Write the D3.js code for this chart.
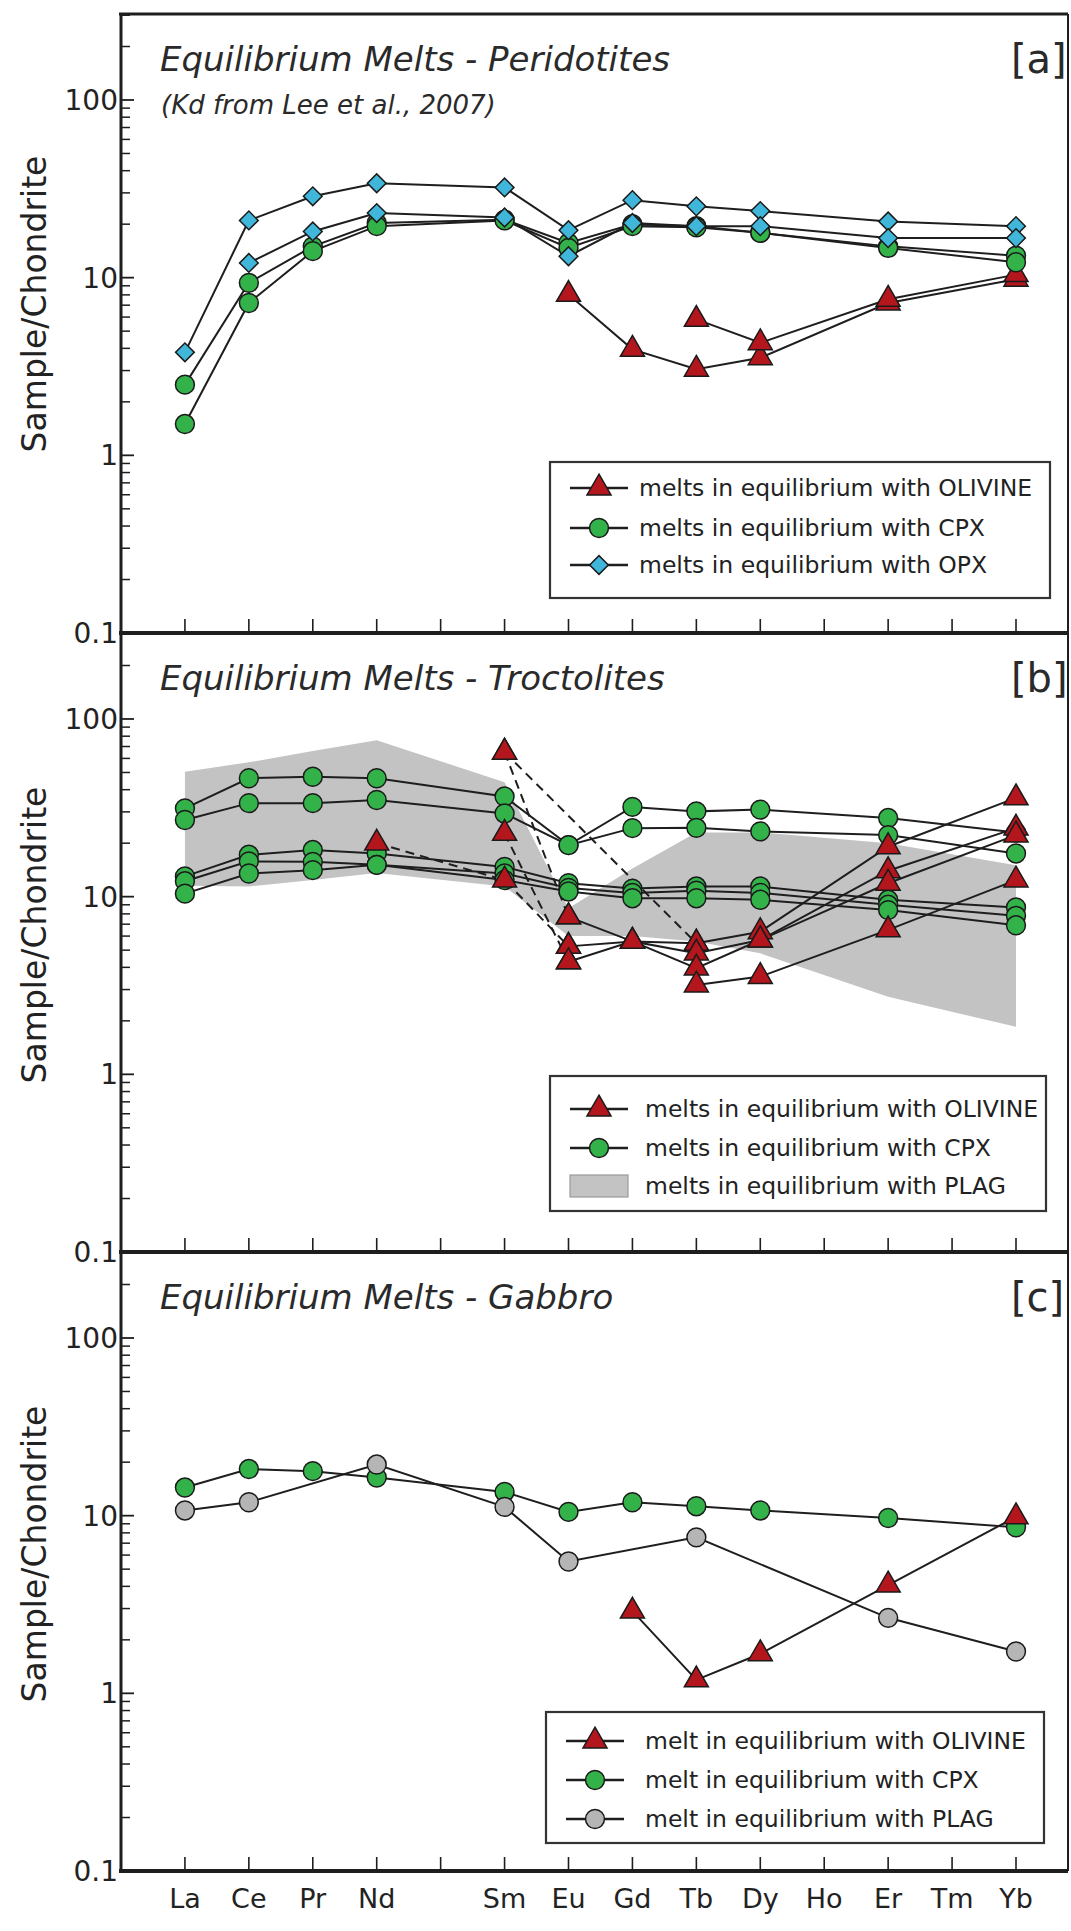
<!DOCTYPE html>
<html>
<head>
<meta charset="utf-8">
<script src="https://cdn.jsdelivr.net/npm/d3@7"></script>
<style>
  html, body { margin: 0; padding: 0; background: #fff; }
  svg { display: block; font-family: "DejaVu Sans", sans-serif; }
</style>
</head>
<body>
<svg id="chart" width="1071" height="1931"></svg>
<script>
// REE on the x axis (Pm has no label)
const elements = ["La", "Ce", "Pr", "Nd", "Pm", "Sm", "Eu", "Gd", "Tb", "Dy", "Ho", "Er", "Tm", "Yb"];
const tickLabels = ["La", "Ce", "Pr", "Nd", "", "Sm", "Eu", "Gd", "Tb", "Dy", "Ho", "Er", "Tm", "Yb"];
const yTickValues = [0.1, 1, 10, 100];
const yTickLabels = ["0.1", "1", "10", "100"];

// [a] peridotites
const periOlivine = [
  [null, null, null, null, null, null, 8.05, 3.95, 3.05, 3.54, null, 7.2, null, 9.8],
  [null, null, null, null, null, null, null, null, 5.82, 4.3, null, 7.55, null, 10.4]
];
const periCpx = [
  [2.5, 9.35, 15.0, 20.3, null, 21.2, 15.7, 20.0, 19.5, 17.9, null, 15.0, null, 13.3],
  [1.5, 7.2, 14.1, 19.5, null, 21.0, 14.7, 19.5, 19.2, 17.9, null, 14.7, null, 12.2]
];
const periOpx = [
  [3.8, 21.0, 28.7, 34.0, null, 32.2, 18.5, 27.3, 25.2, 23.7, null, 20.7, null, 19.5],
  [null, 12.1, 18.2, 23.1, null, 21.8, 13.2, 20.3, 19.5, 19.5, null, 16.7, null, 16.7]
];

// [b] troctolites
const trocCpx = [
  [31.4, 46.4, 47.3, 46.4, null, 36.6, 19.5, 32.0, 30.2, 30.9, null, 27.7, null, 23.0],
  [27.0, 33.6, 33.6, 35.0, null, 29.4, 19.5, 24.3, 24.4, 23.3, null, 22.2, null, 17.5],
  [13.0, 17.2, 18.3, 17.5, null, 14.7, 11.9, 11.1, 11.4, 11.4, null, 9.6, null, 8.7],
  [12.2, 15.8, 15.7, 15.1, null, 13.5, 11.2, 10.5, 10.8, 10.5, null, 9.0, null, 7.8],
  [10.4, 13.5, 14.1, 15.1, null, 12.4, 10.7, 9.8, 9.8, 9.6, null, 8.4, null, 6.9]
];
const trocOlivine = [
  [null, null, null, null, null, null, 5.25, 5.6, 5.47, 6.35, null, 19.1, null, 36.0],
  [null, null, null, null, null, null, 4.3, 5.6, 4.81, 5.7, null, 14.0, null, 24.3],
  [null, null, null, null, null, null, 7.7, 5.6, 3.96, 5.7, null, 11.9, null, 22.2],
  [null, null, null, null, null, null, null, null, 3.18, 3.55, null, 6.5, null, 12.4]
];
const trocOlivineDashed = [
  [null, null, null, null, null, 65.0, 7.7, null, null, null, null, null, null, null],
  [null, null, null, null, null, 65.0, null, null, 5.47, null, null, null, null, null],
  [null, null, null, null, null, 22.7, 4.3, null, null, null, null, null, null, null],
  [null, null, null, 20.0, null, 12.4, 5.25, null, null, null, null, null, null, null]
];
const trocPlagUpper = [50.5, 57.0, 66.0, 76.0, null, 44.0, 8.6, 14.4, 23.0, 23.0, null, 20.0, null, 15.0];
const trocPlagLower = [11.5, 11.4, 12.4, 13.6, null, 11.4, 6.0, 6.0, 5.6, 4.8, null, 2.73, null, 1.85];

// [c] gabbro
const gabCpx = [[14.4, 18.3, 17.8, 16.4, null, 13.6, 10.5, 11.9, 11.3, 10.7, null, 9.7, null, 8.6]];
const gabPlag = [[10.7, 11.9, null, 19.4, null, 11.2, 5.52, null, 7.55, null, null, 2.66, null, 1.72]];
const gabOlivine = [[null, null, null, null, null, null, null, 2.9, 1.19, 1.67, null, 4.07, null, 9.85]];

const markerStyle = {
  olv:  { sym: d3.symbolTriangle, size: 250, fill: "#b3161d", rot: 0 },
  cpx:  { sym: d3.symbolCircle, size: 280, fill: "#34b24a", rot: 0 },
  opx:  { sym: d3.symbolSquare, size: 175, fill: "#40b6da", rot: 45 },
  plag: { sym: d3.symbolCircle, size: 280, fill: "#b5b5b5", rot: 0 }
};

const panels = [
  {
    top: 14, title: "Equilibrium Melts - Peridotites", sub: "(Kd from Lee et al., 2007)", tag: "[a]",
    ylabCenter: 290,
    series: [
      { data: periOlivine, kind: "olv" },
      { data: periCpx, kind: "cpx" },
      { data: periOpx, kind: "opx" }
    ],
    legend: { x: 550, y: 448, w: 500, h: 136, rows: [26, 66, 103], textX: 639,
      items: [["olv", "melts in equilibrium with OLIVINE"], ["cpx", "melts in equilibrium with CPX"], ["opx", "melts in equilibrium with OPX"]] }
  },
  {
    top: 633, title: "Equilibrium Melts - Troctolites", sub: null, tag: "[b]",
    ylabCenter: 302,
    area: [trocPlagUpper, trocPlagLower],
    series: [
      { data: trocCpx, kind: "cpx" },
      { data: trocOlivineDashed, kind: "olv", dashed: true },
      { data: trocOlivine, kind: "olv" }
    ],
    legend: { x: 550, y: 443, w: 496, h: 135, rows: [33, 72, 110], textX: 645,
      items: [["olv", "melts in equilibrium with OLIVINE"], ["cpx", "melts in equilibrium with CPX"], ["area", "melts in equilibrium with PLAG"]] }
  },
  {
    top: 1252, title: "Equilibrium Melts - Gabbro", sub: null, tag: "[c]",
    ylabCenter: 302,
    series: [
      { data: gabCpx, kind: "cpx" },
      { data: gabPlag, kind: "plag" },
      { data: gabOlivine, kind: "olv" }
    ],
    legend: { x: 546, y: 460, w: 498, h: 131, rows: [29, 68, 107], textX: 645,
      items: [["olv", "melt in equilibrium with OLIVINE"], ["cpx", "melt in equilibrium with CPX"], ["plag", "melt in equilibrium with PLAG"]] }
  }
];

const svg = d3.select("#chart");
const panelH = 619;
const leftX = 121, rightX = 1068;
const x = d3.scaleLinear().domain([-1, 13]).range([leftX, 1016]);
const yMax = Math.pow(10, 2 + 86 / 177.7);
const ink = "#1e1e1e";

function drawMarker(g, kind, cx, cy) {
  const s = markerStyle[kind];
  g.append("path")
    .attr("d", d3.symbol(s.sym, s.size)())
    .attr("transform", `translate(${cx},${cy}) rotate(${s.rot})`)
    .attr("fill", s.fill)
    .attr("stroke", "#1a1a1a")
    .attr("stroke-width", 1.5);
}

panels.forEach(p => {
  const g = svg.append("g");
  const y = d3.scaleLog().domain([0.1, yMax]).range([p.top + panelH, p.top]);

  // shaded field
  if (p.area) {
    const pts = elements.map((e, i) => i).filter(i => p.area[0][i] != null);
    const area = d3.area().x(i => x(i)).y0(i => y(p.area[1][i])).y1(i => y(p.area[0][i]));
    g.append("path").datum(pts).attr("d", area).attr("fill", "#c3c3c3");
  }

  // series: lines first, then markers
  const line = d3.line().x(d => x(d.i)).y(d => y(d.v));
  p.series.forEach(s => {
    s.data.forEach(row => {
      const pts = row.map((v, i) => ({ i, v })).filter(d => d.v != null);
      g.append("path").datum(pts).attr("d", line)
        .attr("fill", "none").attr("stroke", ink).attr("stroke-width", 2)
        .attr("stroke-dasharray", s.dashed ? "9,6" : null);
    });
  });
  p.series.forEach(s => {
    s.data.forEach(row => {
      row.forEach((v, i) => { if (v != null) drawMarker(g, s.kind, x(i), y(v)); });
    });
  });

  // y ticks
  const minor = [];
  for (let k = -1; k <= 2; k++) for (let m = 2; m <= 9; m++) {
    const v = m * Math.pow(10, k);
    if (v < yMax) minor.push(v);
  }
  g.selectAll(null).data(minor).join("line")
    .attr("x1", leftX).attr("x2", leftX + 9).attr("y1", d => y(d)).attr("y2", d => y(d))
    .attr("stroke", ink).attr("stroke-width", 1.5);
  g.selectAll(null).data(yTickValues).join("line")
    .attr("x1", leftX).attr("x2", leftX + 13).attr("y1", d => y(d)).attr("y2", d => y(d))
    .attr("stroke", ink).attr("stroke-width", 1.8);
  g.selectAll(null).data(yTickValues).join("text")
    .attr("x", leftX - 3).attr("y", d => y(d)).attr("dy", "0.36em")
    .attr("text-anchor", "end").attr("font-size", 28).attr("fill", "#222")
    .text((d, i) => yTickLabels[i]);

  // x ticks on the bottom line of each panel
  const bottom = p.top + panelH;
  g.selectAll(null).data(elements).join("line")
    .attr("x1", (d, i) => x(i)).attr("x2", (d, i) => x(i))
    .attr("y1", bottom).attr("y2", bottom - 14)
    .attr("stroke", ink).attr("stroke-width", 1.6);

  g.append("line").attr("x1", leftX - 2).attr("x2", rightX).attr("y1", bottom).attr("y2", bottom)
    .attr("stroke", ink).attr("stroke-width", 4);

  // y label
  g.append("text")
    .attr("transform", `translate(34,${p.top + p.ylabCenter}) rotate(-90)`)
    .attr("text-anchor", "middle").attr("dy", "0.36em")
    .attr("font-size", 33).attr("fill", "#222").text("Sample/Chondrite");

  // titles
  g.append("text").attr("x", 160).attr("y", p.top + 57)
    .attr("font-size", 34).attr("font-style", "italic").attr("fill", "#2a2a2a").text(p.title);
  if (p.sub) {
    g.append("text").attr("x", 161).attr("y", p.top + 100)
      .attr("font-size", 26).attr("font-style", "italic").attr("fill", "#2a2a2a").text(p.sub);
  }
  g.append("text").attr("x", 1011).attr("y", p.top + 59)
    .attr("font-size", 40).attr("fill", "#2a2a2a").text(p.tag);

  // legend
  const L = p.legend;
  const lg = g.append("g").attr("transform", `translate(${L.x},${p.top + L.y})`);
  lg.append("rect").attr("width", L.w).attr("height", L.h)
    .attr("fill", "#fff").attr("stroke", "#333").attr("stroke-width", 2.2);
  L.items.forEach((it, k) => {
    const cy = L.rows[k];
    if (it[0] === "area") {
      lg.append("rect").attr("x", 20).attr("y", cy - 11).attr("width", 58).attr("height", 22)
        .attr("fill", "#c3c3c3").attr("stroke", "#9a9a9a").attr("stroke-width", 1.2);
    } else {
      lg.append("line").attr("x1", 20).attr("x2", 78).attr("y1", cy).attr("y2", cy)
        .attr("stroke", ink).attr("stroke-width", 2.5);
      drawMarker(lg, it[0], 49, cy);
    }
    lg.append("text").attr("x", L.textX - L.x).attr("y", cy).attr("dy", "0.36em")
      .attr("font-size", 23.5).attr("fill", "#222").text(it[1]);
  });
});

// outer frame: top, left and right edges
svg.append("line").attr("x1", leftX - 2).attr("x2", rightX).attr("y1", panels[0].top).attr("y2", panels[0].top)
  .attr("stroke", ink).attr("stroke-width", 3);
svg.append("line").attr("x1", leftX).attr("x2", leftX).attr("y1", panels[0].top).attr("y2", panels[2].top + panelH)
  .attr("stroke", ink).attr("stroke-width", 3);
svg.append("line").attr("x1", rightX).attr("x2", rightX).attr("y1", panels[0].top).attr("y2", panels[2].top + panelH)
  .attr("stroke", ink).attr("stroke-width", 2);

// element labels under the last panel
svg.append("g").selectAll("text").data(tickLabels).join("text")
  .attr("x", (d, i) => x(i)).attr("y", 1908)
  .attr("text-anchor", "middle").attr("font-size", 27).attr("fill", "#222")
  .text(d => d);
</script>
</body>
</html>
